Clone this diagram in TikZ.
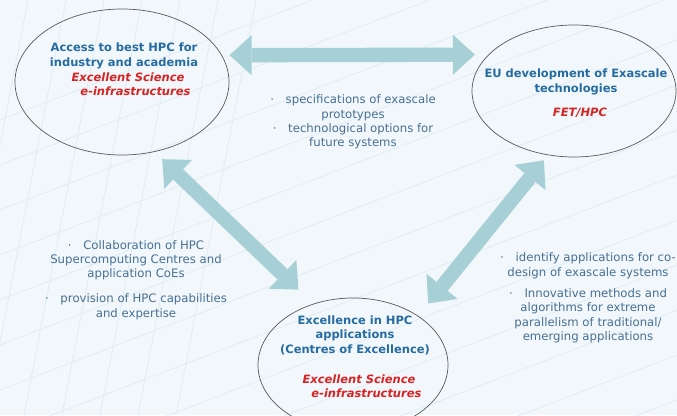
\documentclass[tikz,border=0pt]{standalone}
\usepackage{fontspec}
\setmainfont{DejaVu Sans}
\usetikzlibrary{shapes,arrows.meta,positioning}

\definecolor{titleblue}{RGB}{38,108,162}
\definecolor{fundred}{RGB}{214,36,36}
\definecolor{bulletblue}{RGB}{72,112,148}
\definecolor{arrowteal}{RGB}{166,208,214}
\definecolor{backdrop}{RGB}{241,247,250}
\definecolor{gridline}{RGB}{222,235,242}

\begin{document}
\begin{tikzpicture}[
        x=0.03cm, y=-0.03cm,
        pillar/.style={ellipse, draw=black!65, line width=0.6pt, inner sep=0pt},
        heading/.style={font=\fontsize{9.8}{12.4}\selectfont\bfseries, text=titleblue, align=center},
        funding/.style={font=\fontsize{9.8}{12}\selectfont\bfseries\itshape, text=fundred, align=center},
        bullets/.style={font=\fontsize{10}{12.2}\selectfont, text=bulletblue, align=center},
        link/.style={{Triangle[width=1.2cm, length=0.66cm, line width=0pt]}-{Triangle[width=1.2cm, length=0.66cm, line width=0pt]}, line width=0.43cm, draw=arrowteal}
    ]
    % page and faint background grid
    \useasboundingbox (0,0) rectangle (677,415);
    \clip (0,0) rectangle (677,415);
    \fill[backdrop] (0,0) rectangle (677,415);
    \foreach \k in {0,...,7}
        \draw[gridline, line width=0.6pt] (\k*38-10,0) -- (\k*38-90,415);
    \foreach \k in {0,...,12}
        \draw[gridline, line width=0.6pt] (0,\k*45+120) -- (677,\k*45-140);

    % The three pillars
    \node[pillar, minimum width=6.42cm, minimum height=4.38cm] (access) at (122,82) {};
    \node[pillar, minimum width=6.12cm, minimum height=3.96cm] (exascale) at (574,91) {};
    \node[pillar, minimum width=5.7cm, minimum height=4.02cm] (coe) at (353,365) {};

    \node[heading] (access-title) at (124,56) {Access to best HPC for\\industry and academia};
    \node[funding] (access-fund) at (128,84) {Excellent Science\\\hspace*{1.3em}e-infrastructures};

    \node[heading] (exascale-title) at (576,82) {EU development of Exascale\\technologies};
    \node[funding] (exascale-fund) at (580,113) {FET/HPC};

    \node[heading] (coe-title) at (355,335) {Excellence in HPC\\applications\\(Centres of Excellence)};
    \node[funding] (coe-fund) at (359,386) {Excellent Science\\\hspace*{1.3em}e-infrastructures};

    % Links between pillars
    \draw[link, shorten <=6.5pt, shorten >=11.5pt] (access.15) -- (exascale.157);
    \draw[link, shorten <=9pt, shorten >=17.5pt] (access.-65) -- (coe.123.5);
    \draw[link, shorten <=13.6pt, shorten >=5.7pt] (coe.37.8) -- (exascale.-112);

    % What each link carries
    \node[bullets] (spec) at (353,122) {·\quad specifications of exascale\\prototypes\\·\quad technological options for\\future systems};
    \node[bullets] (collab) at (136,280) {·\quad Collaboration of HPC\\Supercomputing Centres and\\application CoEs\\[9pt]·\quad provision of HPC capabilities\\and expertise};
    \node[bullets] (codesign) at (588,298) {·\quad identify applications for co-\\design of exascale systems\\[6pt]·\quad Innovative methods and\\algorithms for extreme\\parallelism of traditional/\\emerging applications};
\end{tikzpicture}
\end{document}
